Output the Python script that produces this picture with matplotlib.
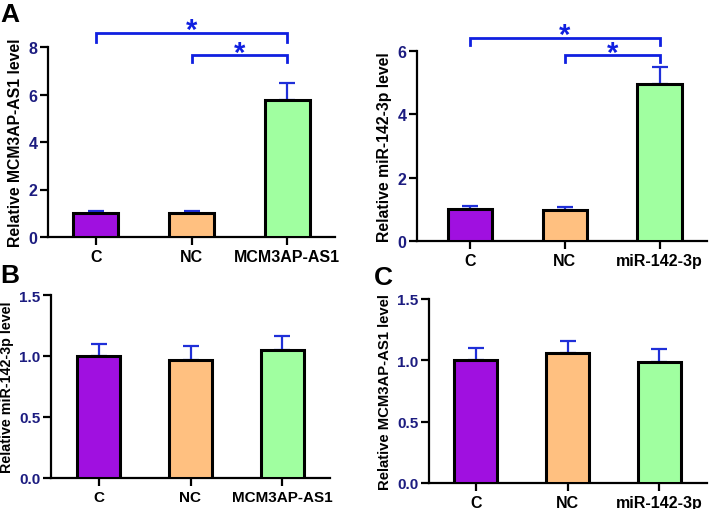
import matplotlib
matplotlib.use("Agg")
import matplotlib.pyplot as plt

plt.rcParams['font.family'] = ['Liberation Sans', 'DejaVu Sans']
plt.rcParams['font.weight'] = 'bold'

# ---- data ----
cats_a1 = ["C", "NC", "MCM3AP-AS1"]
vals_a1 = [1.0, 1.0, 5.75]
errs_a1 = [0.1, 0.1, 0.75]

cats_a2 = ["C", "NC", "miR-142-3p"]
vals_a2 = [1.0, 0.97, 4.95]
errs_a2 = [0.12, 0.1, 0.53]

cats_b = ["C", "NC", "MCM3AP-AS1"]
vals_b = [1.0, 0.97, 1.05]
errs_b = [0.1, 0.11, 0.11]

cats_c = ["C", "NC", "miR-142-3p"]
vals_c = [1.0, 1.06, 0.99]
errs_c = [0.1, 0.1, 0.1]

colors = ["#A010E0", "#FFC080", "#A0FFA0"]
ebar_col = "#1F2FD8"
brk_col = "#1020E0"
tick_col = "#1C1C80"

fig = plt.figure(figsize=(7.09, 5.10), dpi=100)
W, H = 709, 510

def add_ax(x0, x1, ybot, ytop):
    return fig.add_axes([x0 / W, 1 - ybot / H, (x1 - x0) / W, (ybot - ytop) / H])

def draw(ax, cats, vals, errs, ylim, yticks, ylabel, xlim, fmt, fs_lab, fs_x, fs_y):
    x = list(range(len(cats)))
    ax.bar(x, vals, width=0.47, color=colors, edgecolor="black", linewidth=2.2, zorder=3)
    ax.errorbar(x, vals, yerr=[[0] * len(errs), errs], fmt="none", ecolor=ebar_col,
                elinewidth=1.6, capsize=6, capthick=1.6, zorder=2)
    ax.set_xlim(*xlim)
    ax.set_ylim(*ylim)
    ax.set_yticks(yticks)
    ax.set_yticklabels([fmt.format(t) for t in yticks], color=tick_col, fontsize=fs_y, fontweight="bold")
    ax.set_xticks(x)
    ax.set_xticklabels(cats, fontsize=fs_x, fontweight="bold")
    ax.set_ylabel(ylabel, fontsize=fs_lab, fontweight="bold", labelpad=4)
    for s in ["top", "right"]:
        ax.spines[s].set_visible(False)
    for s in ["left", "bottom"]:
        ax.spines[s].set_linewidth(1.6)
    ax.tick_params(axis="both", width=1.6, length=5.5, direction="out")
    ax.tick_params(axis="y", pad=2)
    ax.tick_params(axis="x", pad=3)

def bracket(ax, x1, x2, y, drop, star_y):
    ax.plot([x1, x1, x2, x2], [y - drop, y, y, y - drop], color=brk_col, lw=2.0,
            clip_on=False, solid_joinstyle="miter")
    ax.text((x1 + x2) / 2, star_y, "*", color=brk_col, fontsize=21, fontweight="bold",
            ha="center", va="center", clip_on=False)

# Panel A left
ax1 = add_ax(48, 335, 238, 48)
draw(ax1, cats_a1, vals_a1, errs_a1, (0, 8), [0, 2, 4, 6, 8], "Relative MCM3AP-AS1 level",
     (-0.5, 2.5), "{:g}", 11.3, 11.5, 11.5)
bracket(ax1, 0, 2, 8.6, 0.4, 8.72)
bracket(ax1, 1, 2, 7.65, 0.3, 7.77)

# Panel A right
ax2 = add_ax(417, 707, 242, 52)
draw(ax2, cats_a2, vals_a2, errs_a2, (0, 6), [0, 2, 4, 6], "Relative miR-142-3p level",
     (-0.56, 2.5), "{:g}", 11.3, 11.5, 11.5)
bracket(ax2, 0, 2, 6.41, 0.23, 6.5)
bracket(ax2, 1, 2, 5.86, 0.21, 5.95)

# Panel B
ax3 = add_ax(51, 330, 479, 296)
draw(ax3, cats_b, vals_b, errs_b, (0, 1.5), [0.0, 0.5, 1.0, 1.5], "Relative miR-142-3p level",
     (-0.52, 2.52), "{:.1f}", 10.3, 11, 11)

# Panel C
ax4 = add_ax(429, 707, 484, 300)
draw(ax4, cats_c, vals_c, errs_c, (0, 1.5), [0.0, 0.5, 1.0, 1.5], "Relative MCM3AP-AS1 level",
     (-0.51, 2.52), "{:.1f}", 10.7, 11.5, 11)

# Panel letters
fig.text(0 / W, 1 - 22 / H, "A", fontsize=19, fontweight="bold", va="baseline", ha="left")
fig.text(0 / W, 1 - 283 / H, "B", fontsize=19, fontweight="bold", va="baseline", ha="left")
fig.text(374 / W, 1 - 285 / H, "C", fontsize=19, fontweight="bold", va="baseline", ha="left")

fig.savefig("out.png", dpi=100)
